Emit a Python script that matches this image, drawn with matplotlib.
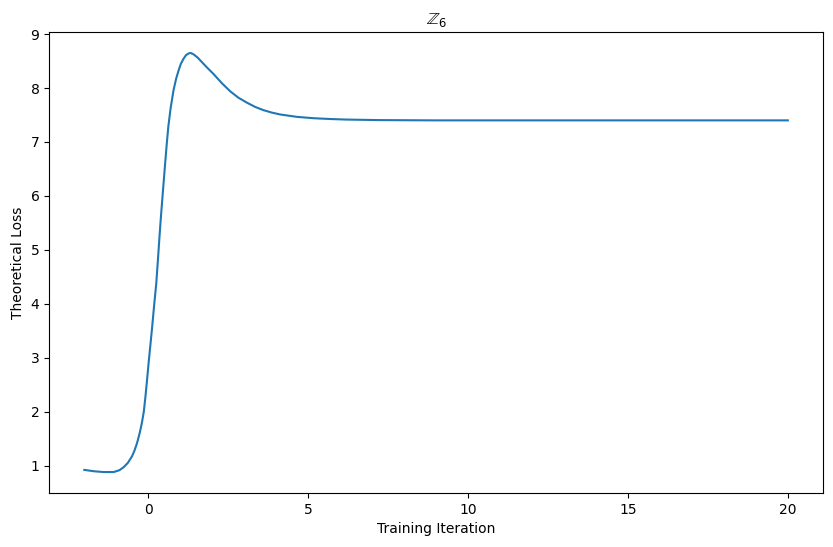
import matplotlib
matplotlib.use('Agg')
from matplotlib import pyplot as plt

# values
iteration = [-2.0, -1.7, -1.4, -1.08, -0.9, -0.77, -0.64, -0.51, -0.43, -0.35, -0.27, -0.20,
             -0.14, -0.09, -0.04, 0.01, 0.06, 0.115, 0.18, 0.25, 0.30, 0.35, 0.40, 0.46,
             0.53, 0.58, 0.63, 0.70, 0.79, 0.87, 0.95, 1.02, 1.10, 1.18, 1.26, 1.32, 1.40,
             1.47, 1.55, 1.63, 1.82, 2.04, 2.3, 2.56, 2.82, 3.08, 3.34, 3.6, 3.86, 4.12,
             4.65, 5.17, 5.7, 6.2, 7.25, 9.0, 12.0, 16.0, 20.0]
loss = [0.92, 0.895, 0.88, 0.88, 0.915, 0.97, 1.05, 1.17, 1.28, 1.42, 1.60, 1.79,
        2.0, 2.27, 2.58, 2.90, 3.20, 3.53, 3.95, 4.38, 4.80, 5.24, 5.65, 6.10,
        6.62, 6.98, 7.30, 7.63, 7.96, 8.17, 8.33, 8.45, 8.54, 8.61, 8.64, 8.65, 8.63,
        8.60, 8.56, 8.51, 8.39, 8.26, 8.09, 7.94, 7.82, 7.73, 7.65, 7.59, 7.545, 7.51,
        7.465, 7.44, 7.425, 7.415, 7.405, 7.40, 7.40, 7.40, 7.40]

fig, ax = plt.subplots(figsize=(8.33, 5.47), dpi=100)
fig.subplots_adjust(left=0.059, right=0.988, top=0.9415, bottom=0.0987)
ax.plot(iteration, loss, color='#1f77b4', lw=1.5)
ax.set_xlabel('Training Iteration')
ax.set_ylabel('Theoretical Loss')
ax.set_title(r'$\mathbb{Z}_6$')
fig.savefig('out.png', dpi=100)
